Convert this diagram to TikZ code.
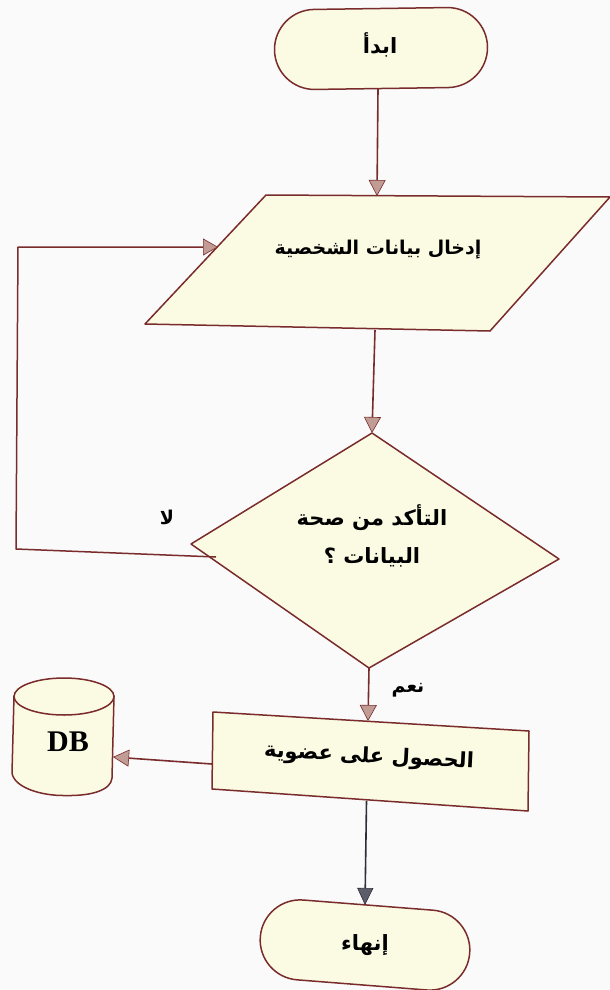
\documentclass[tikz,border=0pt]{standalone}
\usepackage{fontspec}
\usetikzlibrary{arrows.meta}
\TeXXeTstate=1
\newfontfamily\arabicfont[Script=Arabic]{DejaVu Sans}
\setmainfont{Liberation Serif}
\definecolor{pagebg}{HTML}{FAFAFB}
\definecolor{shapefill}{HTML}{FBFBE4}
\definecolor{edgered}{HTML}{7A2B2B}
\definecolor{tipred}{HTML}{C19C94}
\definecolor{edgedark}{HTML}{2E2E38}
\definecolor{tipdark}{HTML}{5C5C6A}
\tikzset{
  shapebox/.style={draw=edgered,fill=shapefill,line width=1.5pt,line join=round},
  flowline/.style={draw=edgered,line width=1.6pt,-{Triangle[length=16pt,width=17pt,fill=tipred,line width=.6pt]}},
  plainline/.style={draw=edgered,line width=1.5pt,line join=round},
  darkline/.style={draw=edgedark,line width=1.6pt,-{Triangle[length=17pt,width=16pt,fill=tipdark,line width=.6pt]}},
  artext/.style={inner sep=0pt,text=black,align=center,font=\arabicfont\bfseries\fontsize{21}{38}\selectfont},
  arinput/.style={artext,font=\arabicfont\bfseries\fontsize{19}{38}\selectfont},
  arsmall/.style={artext,font=\arabicfont\bfseries\fontsize{19}{30}\selectfont},
}
\begin{document}
\begin{tikzpicture}[x=1pt,y=-1pt]
\path[use as bounding box,fill=pagebg] (0,0) rectangle (610,990);
% start
\draw[shapebox,rounded corners=40pt] (274,10) -- (487,7) -- (488,87) -- (275,90) -- cycle;
\node[artext] (start) at (380,45) {\beginR ابدأ\endR};
\coordinate (startS) at (378,89);
% input
\coordinate (inN) at (377,196);
\coordinate (inW) at (218,247);
\coordinate (inS) at (375,330);
\draw[shapebox] (266,195) -- (610,197) -- (490,331) -- (145,324) -- cycle;
\node[arinput] (input) at (378,250) {\beginR إدخال بيانات الشخصية\endR};
% decision
\coordinate (decN) at (372,433);
\coordinate (decW) at (216,557);
\coordinate (decS) at (369,668);
\coordinate (loopA) at (16,549);
\coordinate (loopB) at (18,247);
\draw[shapebox] (372,433) -- (559,559) -- (369,668) -- (191,544) -- cycle;
\node[artext] (check) at (372,536) {\beginR التأكد من صحة\endR\\\beginR البيانات ؟\endR};
\node[arsmall] (no) at (167,517) {\beginR لا\endR};
\node[arsmall] (yes) at (408,690) {\beginR نعم\endR};
% process
\coordinate (procN) at (368,721);
\coordinate (procW) at (212,764);
\coordinate (procS) at (366.5,801);
\draw[shapebox] (213,712) -- (529,731) -- (528,811) -- (212,789) -- cycle;
\node[artext,rotate=-3] (member) at (369,757) {\beginR الحصول على عضوية\endR};
% database
\coordinate (dbE) at (113,757);
\draw[shapebox] (14,696) -- (12,773) .. controls (14,787) and (40,796) .. (66,795.5) .. controls (92,796) and (111,790) .. (112,778) -- (114,696) -- cycle;
\draw[shapebox] (64,696.5) ellipse [x radius=50,y radius=18.5];
\node[inner sep=0pt,font=\bfseries\fontsize{30}{32}\selectfont] (db) at (68,742) {DB};
% end
\coordinate (endN) at (365,905);
\draw[shapebox,rounded corners=40pt] (263.4,896.9) -- (472.8,913.3) -- (466.6,993.1) -- (257.2,976.7) -- cycle;
\node[artext] (finish) at (365,945) {\beginR إنهاء\endR};
% connectors
\draw[flowline] (startS) -- (inN);
\draw[flowline] (inS) -- (decN);
\draw[plainline,-{Triangle[length=15pt,width=17pt,fill=tipred,line width=.6pt]}] (decW) -- (loopA) -- (loopB) -- (inW);
\draw[flowline] (decS) -- (procN);
\draw[flowline] (procW) -- (dbE);
\draw[darkline] (procS) -- (endN);
\end{tikzpicture}
\end{document}
